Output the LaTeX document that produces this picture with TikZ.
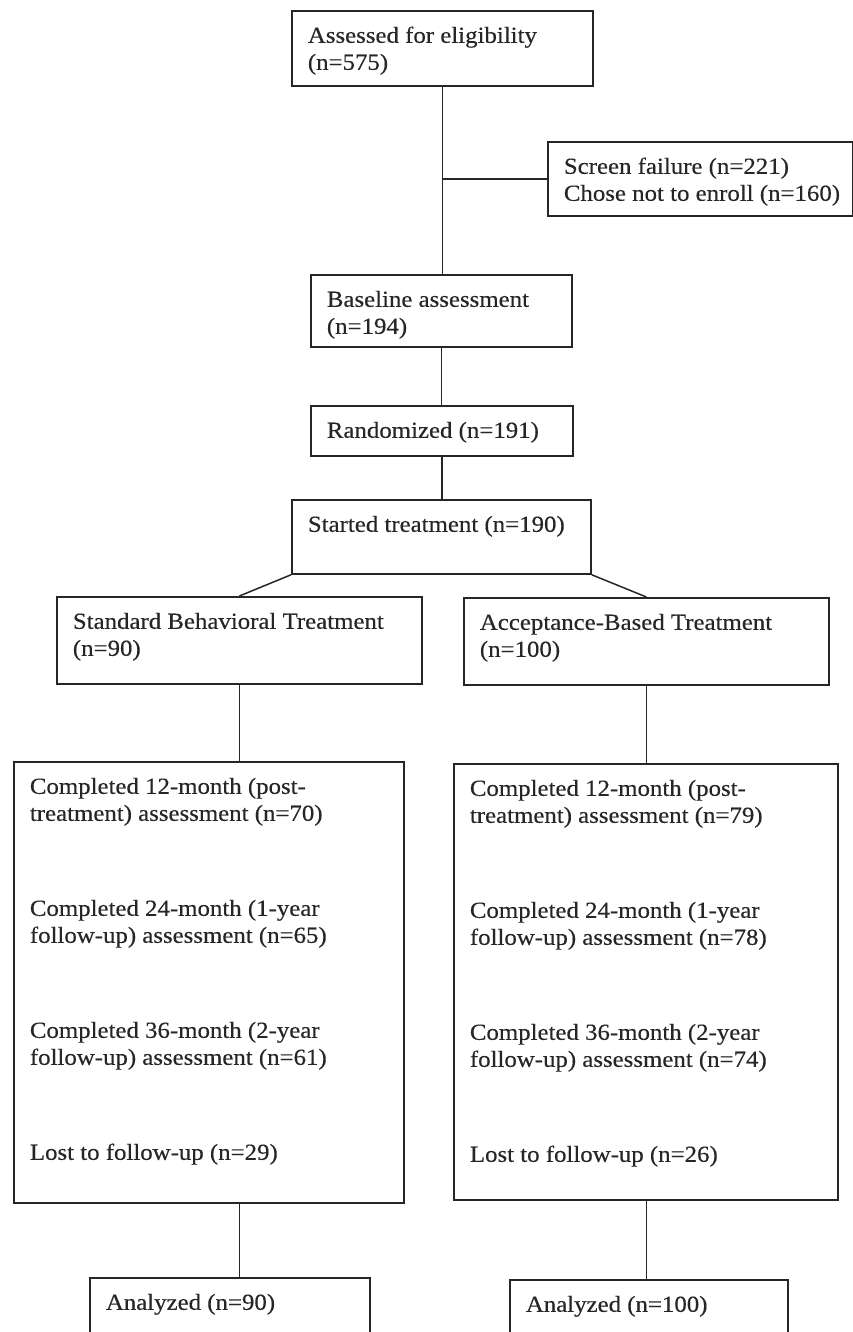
\documentclass[tikz,border=0pt]{standalone}
\usepackage{fontspec}
\setmainfont{Liberation Serif}[FakeStretch=1.08, FakeBold=0.4]
\usepackage{tikz}
\usetikzlibrary{positioning}
\definecolor{ink}{gray}{0.15}
\tikzstyle{box}=[draw=ink, line width=1.8pt, anchor=north west, inner xsep=16pt, inner ysep=13pt, text=ink, font=\fontsize{23}{27}\selectfont]
\tikzstyle{link}=[draw=ink, line width=1.5pt]
\newcommand{\boxtext}[3]{\parbox[c][#2][t]{#1}{\raggedright\strut #3}}

\begin{document}
\begin{tikzpicture}[x=1pt, y=1pt]
	\useasboundingbox (0,0) rectangle (853,-1332);
	\node[box] (assess) at (291,-10) {\boxtext{269pt}{49pt}{Assessed for eligibility\\(n=575)}};
	\node[box] (screen) at (547,-141) {\boxtext{273pt}{48pt}{\mbox{Screen failure (n=221)}\\\mbox{Chose not to enroll (n=160)}}};
	\node[box] (base) at (310,-274) {\boxtext{229pt}{46pt}{Baseline assessment\\(n=194)}};
	\node[box] (rand) at (310,-405) {\boxtext{230pt}{24pt}{Randomized (n=191)}};
	\node[box] (start) at (291,-499) {\boxtext{267pt}{48pt}{Started treatment (n=190)}};
	\node[box] (sbt) at (56,-596) {\boxtext{333pt}{61pt}{Standard Behavioral Treatment\\(n=90)}};
	\node[box] (abt) at (463,-597) {\boxtext{333pt}{61pt}{Acceptance-Based Treatment\\(n=100)}};
	\node[box] (compL) at (13,-761) {\boxtext{358pt}{415pt}{Completed 12-month (post-\\treatment) assessment (n=70)\\[68pt]Completed 24-month (1-year\\follow-up) assessment (n=65)\\[68pt]Completed 36-month (2-year\\follow-up) assessment (n=61)\\[68pt]Lost to follow-up (n=29)}};
	\node[box] (compR) at (453,-763) {\boxtext{352pt}{410pt}{Completed 12-month (post-\\treatment) assessment (n=79)\\[68pt]Completed 24-month (1-year\\follow-up) assessment (n=78)\\[68pt]Completed 36-month (2-year\\follow-up) assessment (n=74)\\[68pt]Lost to follow-up (n=26)}};
	\node[box] (anL) at (89,-1277) {\boxtext{248pt}{74pt}{Analyzed (n=90)}};
	\node[box] (anR) at (509,-1279) {\boxtext{246pt}{74pt}{Analyzed (n=100)}};
	\path[link] (assess.south) edge (assess.south |- base.north)
		(assess.south |- screen.west) edge (screen.west)
		(base.south) edge (base.south |- rand.north)
		(rand.south) edge (rand.south |- start.north)
		(start.south west) edge (sbt.north)
		(start.south east) edge (abt.north)
		(sbt.south) edge (sbt.south |- compL.north)
		(abt.south) edge (abt.south |- compR.north)
		(sbt.south |- compL.south) edge (sbt.south |- anL.north)
		(abt.south |- compR.south) edge (abt.south |- anR.north);
\end{tikzpicture}
\end{document}
